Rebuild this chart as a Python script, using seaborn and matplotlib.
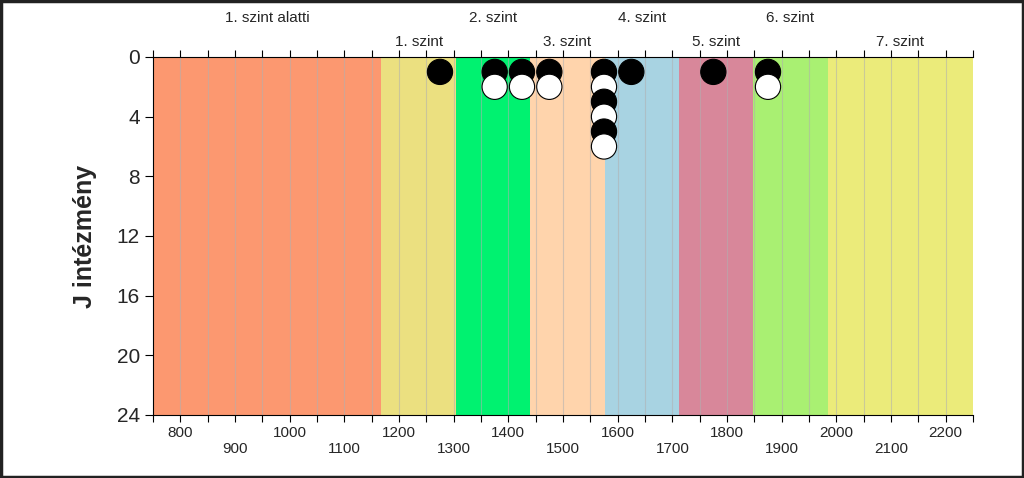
import numpy as np
import pandas as pd
import seaborn as sns
import matplotlib.pyplot as plt
from matplotlib.patches import Rectangle
from matplotlib.transforms import blended_transform_factory

# band edges and names (score levels)
band_edges = [750, 1168, 1304, 1440, 1576, 1712, 1848, 1984, 2250]
band_names = ["1. szint alatti", "1. szint", "2. szint", "3. szint",
              "4. szint", "5. szint", "6. szint", "7. szint"]
band_colors = ["#FC9870", "#EBE080", "#00F270", "#FFD4AC",
               "#A8D3E2", "#D8879A", "#A9F072", "#EBEB7A"]

# institution scores and how many institutions are at each score
scores = [1275, 1375, 1425, 1475, 1575, 1625, 1775, 1875]
counts = [1, 2, 2, 2, 6, 1, 1, 2]

x_ticks = list(range(800, 2201, 100))
y_ticks = [0, 4, 8, 12, 16, 20, 24]

rows = []
for s, n in zip(scores, counts):
    for k in range(1, n + 1):
        rows.append({"score": s, "rank": k, "col": "black" if k % 2 else "white"})
df = pd.DataFrame(rows)

sns.set_style("white")
plt.rcParams["font.family"] = ["Liberation Sans", "DejaVu Sans"]

fig = plt.figure(figsize=(10.24, 4.78), dpi=100)
ax = fig.add_axes([0.1494, 0.1318, 0.8008, 0.749])

for lo, hi, c in zip(band_edges[:-1], band_edges[1:], band_colors):
    ax.axvspan(lo, hi, color=c, lw=0, zorder=0)

# light vertical grid every 50 points
for gx in range(800, 2250, 50):
    ax.axvline(gx, color="#b0b0b0", lw=0.8, alpha=0.55, zorder=1)

sns.scatterplot(data=df, x="score", y="rank", hue="col",
                palette={"black": "black", "white": "white"},
                s=330, edgecolor="black", linewidth=0.8,
                legend=False, zorder=3, ax=ax)

ax.set_xlim(band_edges[0], band_edges[-1])
ax.set_ylim(24, 0)
ax.set_yticks(y_ticks)
ax.set_yticklabels([str(v) for v in y_ticks], fontsize=15)
ax.set_xticks(x_ticks)
ax.set_xticklabels([str(v) if i % 2 == 0 else "\n" + str(v)
                    for i, v in enumerate(x_ticks)], fontsize=11)
ax.set_xticks(range(750, 2251, 50), minor=True)
ax.tick_params(axis="x", which="both", direction="out", length=5, width=0.8,
               top=True, bottom=True, labeltop=False, color="black", pad=3)
ax.tick_params(axis="y", direction="out", length=6, width=0.8, left=True,
               color="black")
ax.set_xlabel("")
ax.set_ylabel("J intézmény", fontsize=18, fontweight="bold", labelpad=14)

for side in ["left", "top", "bottom"]:
    ax.spines[side].set_visible(True)
    ax.spines[side].set_color("black")
    ax.spines[side].set_linewidth(0.8)
ax.spines["right"].set_visible(False)

trans = blended_transform_factory(ax.transData, ax.transAxes)
for i, name in enumerate(band_names):
    cx = (band_edges[i] + band_edges[i + 1]) / 2
    yy = 1.11 if i % 2 == 0 else 1.043
    ax.text(cx, yy, name, transform=trans, ha="center", va="center",
            fontsize=11)

fig.patches.append(Rectangle((0.001, 0.002), 0.998, 0.996, transform=fig.transFigure,
                             fill=False, edgecolor="#222222", lw=2.5))

fig.savefig("out.png", dpi=100)
